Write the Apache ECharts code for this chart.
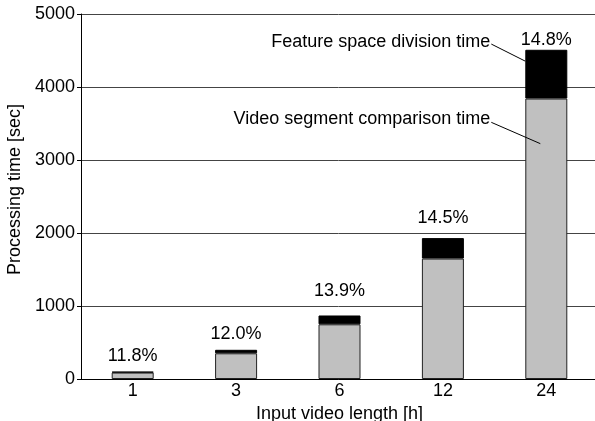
<!DOCTYPE html>
<html>
<head>
<meta charset="utf-8">
<script src="https://cdn.jsdelivr.net/npm/echarts@6/dist/echarts.min.js"></script>
<style>
html,body{margin:0;padding:0;background:#fff;}
#ProcessingTimeChart{width:595px;height:421px;}
</style>
</head>
<body>
<div id="ProcessingTimeChart"></div>
<script>
// 数据
var categories = ['1', '3', '6', '12', '24'];
var comparisonTime = [88, 352, 749, 1650, 3842];
var divisionTime = [12, 48, 121, 280, 668];
var pctLabels = ['11.8%', '12.0%', '13.9%', '14.5%', '14.8%'];
var yTicks = [0, 1000, 2000, 3000, 4000, 5000];

// 百分比标签离柱顶的距离
var labelGap = [7, 7, 15, 11, 1];

var FONT = '"Liberation Sans", Arial, sans-serif';
var FS = 18;

function initProcessingTimeChart(){
	var myChart = echarts.init(document.getElementById('ProcessingTimeChart'));
	var divisionData = [];
	for(var i=0;i<divisionTime.length;i++){
		divisionData.push({
			value: divisionTime[i],
			label: {distance: labelGap[i]}
		});
	}
	var option = {
		animation: false,
		grid: {left: 81, right: -3, top: 14, bottom: 42, containLabel: false, outerBoundsMode: 'none'},
		xAxis: {
			type: 'category',
			data: categories,
			name: 'Input video length [h]',
			nameLocation: 'middle',
			nameGap: 25,
			nameTextStyle: {fontFamily: FONT, fontSize: FS, color: '#000'},
			axisLine: {lineStyle: {color: '#000', width: 1}},
			axisTick: {show: false},
			axisLabel: {fontFamily: FONT, fontSize: FS, color: '#000', margin: 3}
		},
		yAxis: {
			type: 'value',
			min: yTicks[0],
			max: yTicks[yTicks.length-1],
			interval: 1000,
			name: 'Processing time [sec]',
			nameLocation: 'middle',
			nameGap: 57,
			nameTextStyle: {fontFamily: FONT, fontSize: FS, color: '#000', padding: [0, 0, 0, 14]},
			axisLine: {show: true, lineStyle: {color: '#000', width: 1}},
			axisTick: {show: true, length: 4, lineStyle: {color: '#000'}},
			axisLabel: {fontFamily: FONT, fontSize: FS, color: '#000', margin: 6,
				formatter: function(v){ return String(v); }},
			splitLine: {lineStyle: {color: '#444', width: 1}}
		},
		series: [
			{
				name: 'Video segment comparison time',
				type: 'bar',
				stack: 'total',
				barWidth: 42,
				itemStyle: {color: '#c0c0c0', borderColor: '#222', borderWidth: 1},
				data: comparisonTime
			},
			{
				name: 'Feature space division time',
				type: 'bar',
				stack: 'total',
				barWidth: 42,
				itemStyle: {color: '#000', borderColor: '#000', borderWidth: 1},
				label: {
					show: true,
					position: 'top',
					fontFamily: FONT,
					fontSize: FS,
					color: '#000',
					formatter: function(p){ return pctLabels[p.dataIndex]; }
				},
				data: divisionData
			}
		]
	};
	myChart.setOption(option);

	// 引线注释, 以最后一根柱子为基准
	var cx = myChart.convertToPixel({xAxisIndex: 0}, categories[4]);
	function py(v){ return myChart.convertToPixel({yAxisIndex: 0}, v); }
	var textStyle = {fontFamily: FONT, fontSize: FS, fill: '#000', textAlign: 'right', textVerticalAlign: 'middle'};
	var lineStyle = {stroke: '#000', lineWidth: 1};
	myChart.setOption({
		graphic: [
			{type: 'text', z: 100, x: cx - 56, y: py(4615), style: echarts.util.extend({text: 'Feature space division time'}, textStyle)},
			{type: 'line', z: 100, shape: {x1: cx - 55, y1: py(4588), x2: cx - 21, y2: py(4354)}, style: lineStyle},
			{type: 'text', z: 100, x: cx - 56, y: py(3567), style: echarts.util.extend({text: 'Video segment comparison time'}, textStyle)},
			{type: 'line', z: 100, shape: {x1: cx - 55, y1: py(3516), x2: cx - 6, y2: py(3224)}, style: lineStyle}
		]
	});
}

initProcessingTimeChart();
</script>
</body>
</html>
